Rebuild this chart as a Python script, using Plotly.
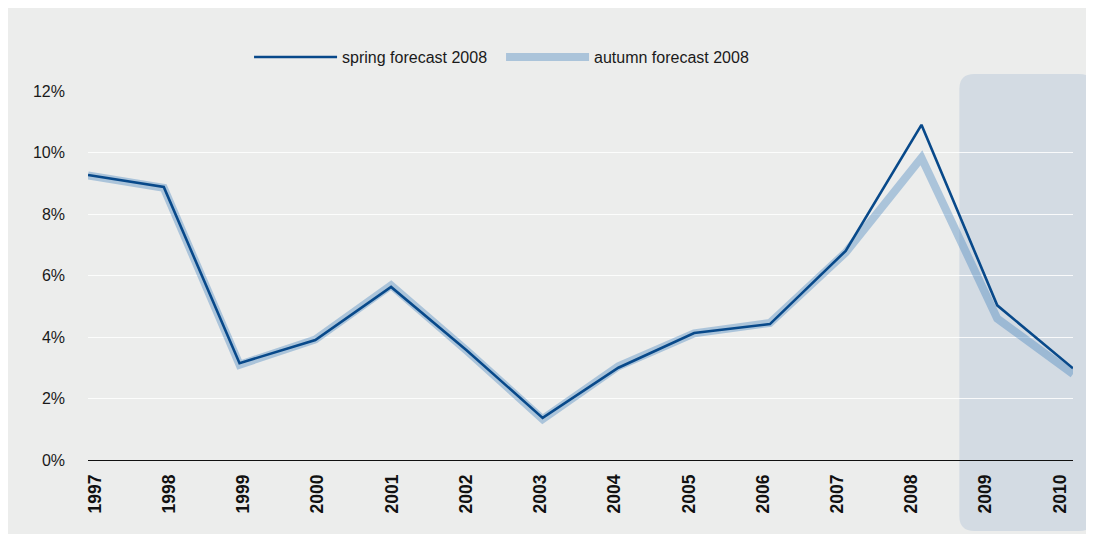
import plotly.graph_objects as go

years = list(range(1997, 2011))
spring = [9.27, 8.88, 3.15, 3.90, 5.63, 3.56, 1.37, 3.00, 4.13, 4.42, 6.80, 10.90, 5.03, 2.98]
autumn = [9.25, 8.85, 3.10, 3.92, 5.68, 3.55, 1.33, 3.05, 4.12, 4.46, 6.75, 9.83, 4.60, 2.80]
forecast_start = 2008.5
y_ticks = [0, 2, 4, 6, 8, 10, 12]
y_ticktext = [f"{v}%" for v in y_ticks]

BG = "#ecedec"
FONT = "Liberation Sans, Arial, Helvetica, sans-serif"

fig = go.Figure()
fig.add_trace(go.Scatter(
    x=years, y=autumn, mode="lines", name="autumn forecast 2008",
    line=dict(color="rgba(67,128,190,0.38)", width=8), cliponaxis=False,
))
fig.add_trace(go.Scatter(
    x=years, y=spring, mode="lines", name="spring forecast 2008",
    line=dict(color="#08498a", width=2.6), cliponaxis=False,
))
# helper trace for the label axis
fig.add_trace(go.Scatter(x=years, y=[None] * len(years), xaxis="x2", showlegend=False,
                         hoverinfo="skip", mode="lines"))

x0, x1 = years[0], years[-1]
span = x1 - x0
px_w = 985.0
px_h = 369.0
# forecast shade with rounded corners (paper coordinates)
sx0 = (forecast_start - x0) / span
sx1 = 1.0213
sy0 = -0.1924
sy1 = 1.0461
rx = 15 / px_w
ry = 15 / px_h
path = (f"M {sx0+rx},{sy1} L {sx1-rx},{sy1} Q {sx1},{sy1} {sx1},{sy1-ry} "
        f"L {sx1},{sy0+ry} Q {sx1},{sy0} {sx1-rx},{sy0} "
        f"L {sx0+rx},{sy0} Q {sx0},{sy0} {sx0},{sy0+ry} "
        f"L {sx0},{sy1-ry} Q {sx0},{sy1} {sx0+rx},{sy1} Z")

shapes = [
    dict(type="path", xref="paper", yref="paper", path=path,
         fillcolor="#d3dbe3", line=dict(width=0), layer="below"),
]

# label axis range: spreads labels as in reference
l0 = 1996.906
l1 = 2010.175

fig.update_layout(
    width=1100, height=540,
    margin=dict(l=80, r=35, t=83, b=88),
    paper_bgcolor=BG,
    plot_bgcolor="rgba(0,0,0,0)",
    font=dict(family=FONT, size=16, color="#1a1a1a"),
    shapes=shapes,
    showlegend=True,
    legend=dict(
        orientation="h", x=0.1635, xanchor="left", y=1.092, yanchor="middle",
        bgcolor="rgba(0,0,0,0)", font=dict(size=16, color="#1a1a1a"),
        traceorder="reversed", entrywidth=154, itemwidth=83,
    ),
    xaxis=dict(
        range=[x0, x1], showgrid=False, zeroline=False, showticklabels=False,
        showline=True, linecolor="#111111", linewidth=1.3, ticks="",
    ),
    xaxis2=dict(
        overlaying="x", side="bottom", range=[l0, l1], showgrid=False, zeroline=False,
        tickmode="array", tickvals=years, ticktext=[str(y) for y in years],
        tickangle=-90, tickfont=dict(size=17.5, family=FONT, color="#111111", weight="bold"),
        ticks="", showline=False, ticklabelstandoff=10,
    ),
    yaxis=dict(
        range=[0, 12], tickmode="array", tickvals=y_ticks, ticktext=y_ticktext,
        showgrid=True, gridcolor="rgba(255,255,255,0.85)", gridwidth=1.3, zeroline=False,
        ticks="", ticklabelstandoff=22, tickfont=dict(size=16, color="#1a1a1a"),
    ),
)

fig.write_html("out.html")
